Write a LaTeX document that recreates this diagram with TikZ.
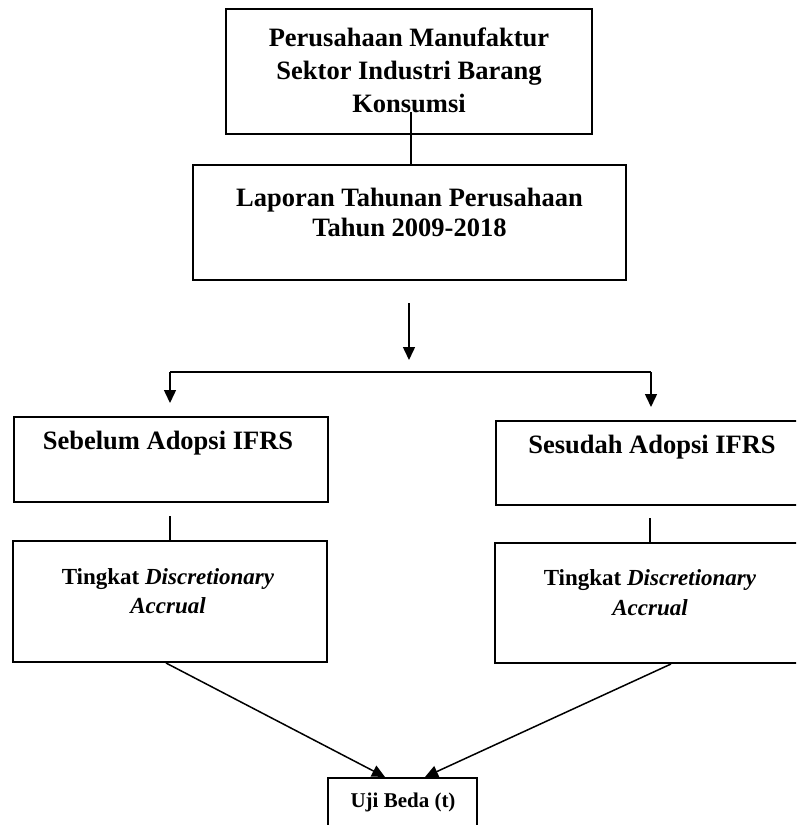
\documentclass[tikz,border=0pt]{standalone}
\usepackage{fontspec}
\setmainfont{Liberation Serif}
\usetikzlibrary{arrows.meta,calc}
\tikzset{
  box/.style={draw, line width=1.6pt, rectangle, inner sep=0pt},
  txt/.style={align=center, inner sep=0pt, font=\bfseries},
  conn/.style={line width=1.5pt},
  arr/.style={line width=1.5pt, -{Triangle[length=13pt,width=12pt]}},
}
\begin{document}
\begin{tikzpicture}[x=1pt,y=-1pt]
\path[use as bounding box, clip] (0,0) rectangle (796,825);
\fill[white] (0,0) rectangle (796,825);
% boxes
\node[box, minimum width=366, minimum height=125] (b1) at (409,71.5) {};
\node[txt, font=\bfseries\fontsize{26.5}{33}\selectfont] (t1) at (409,70) {Perusahaan Manufaktur\\Sektor Industri Barang\\Konsumsi};
\node[box, minimum width=433, minimum height=115] (b2) at (409.5,222.5) {};
\node[txt, font=\bfseries\fontsize{26.5}{30}\selectfont] (t2) at (409.5,212) {Laporan Tahunan Perusahaan\\Tahun 2009-2018};
\node[box, minimum width=314, minimum height=85] (sb) at (171,459.5) {};
\node[txt, font=\bfseries\fontsize{26.5}{32}\selectfont] (tsb) at (168,443) {Sebelum Adopsi IFRS};
\node[box, minimum width=312, minimum height=84] (sd) at (652,463) {};
\node[txt, font=\bfseries\fontsize{26.5}{32}\selectfont] (tsd) at (652,447) {Sesudah Adopsi IFRS};
\node[box, minimum width=314, minimum height=121] (tl) at (170,601.5) {};
\node[txt, font=\bfseries\fontsize{23}{29}\selectfont] (ttl) at (168,591) {Tingkat \textit{Discretionary}\\\textit{Accrual}};
\node[box, minimum width=310, minimum height=120] (tr) at (650,603) {};
\node[txt, font=\bfseries\fontsize{23}{30}\selectfont] (ttr) at (650,593) {Tingkat \textit{Discretionary}\\\textit{Accrual}};
\node[box, minimum width=149, minimum height=100, anchor=north] (uji) at (402.5,777) {};
\node[txt, font=\bfseries\fontsize{21}{25}\selectfont] (tuji) at (403,802) {Uji Beda (t)};
% connectors
\coordinate (c1) at (411,112);
\draw[conn] (c1) -- (c1 |- b2.north);
\coordinate (a0) at (409,303);
\coordinate (a1) at (409,360);
\draw[arr] (a0) -- (a1);
\coordinate (hl) at (170,372);
\coordinate (hr) at (651,372);
\coordinate (hlt) at (170,403);
\coordinate (hrt) at (651,407);
\draw[conn] (hl) -- (hr);
\draw[arr] (hl) -- (hlt);
\draw[arr] (hr) -- (hrt);
\coordinate (cl) at (170,516);
\coordinate (cr) at (650,518);
\draw[conn] (cl) -- (cl |- tl.north);
\draw[conn] (cr) -- (cr |- tr.north);
\coordinate (dl) at (166,663);
\coordinate (dr) at (671,664);
\coordinate (ul) at (385,777);
\coordinate (ur) at (425,777);
\draw[arr] (dl) -- (ul);
\draw[arr] (dr) -- (ur);
\end{tikzpicture}
\end{document}
